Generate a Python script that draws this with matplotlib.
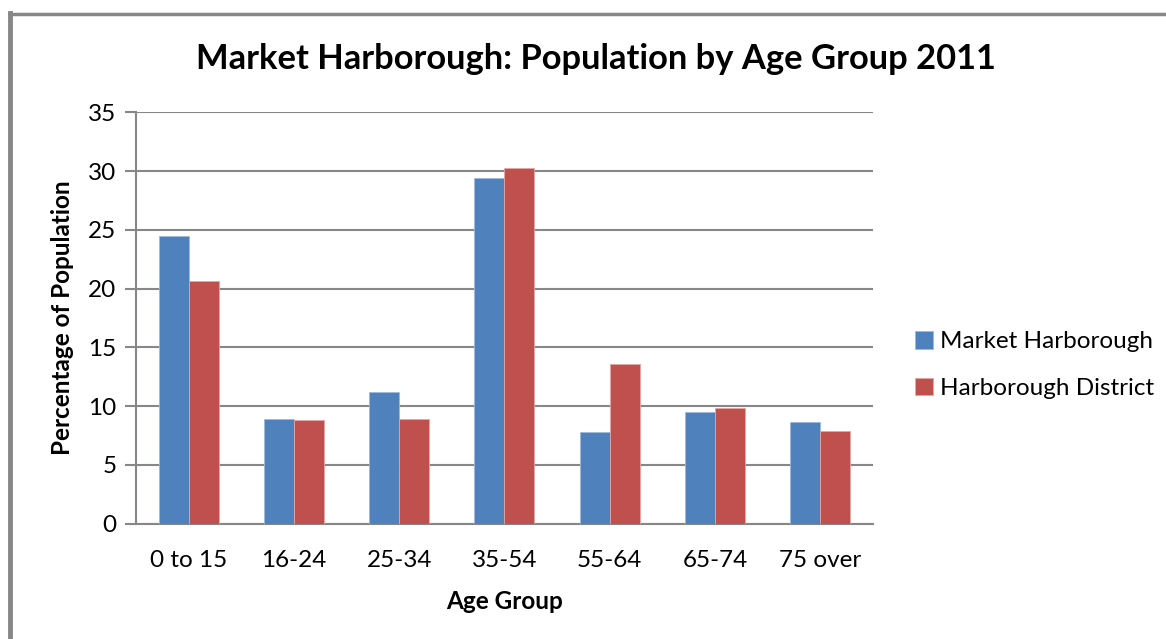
import numpy as np
import matplotlib.pyplot as plt
from matplotlib.lines import Line2D

age_groups = ['0 to 15', '16-24', '25-34', '35-54', '55-64', '65-74', '75 over']
market_harborough = [24.45, 8.9, 11.2, 29.4, 7.83, 9.5, 8.65]
harborough_district = [20.62, 8.8, 8.9, 30.26, 13.56, 9.87, 7.89]

plt.rcParams['font.family'] = ['Lato', 'DejaVu Sans']

fig = plt.figure(figsize=(11.66, 6.39), dpi=100)
ax = fig.add_axes([0.1166, 0.1805, 0.6321, 0.6438])

x = np.arange(len(age_groups))
w = 0.285
ax.bar(x - w / 2, market_harborough, w, color='#4F81BD', edgecolor='#9DB9DE',
       linewidth=0.6, label='Market Harborough', zorder=3)
ax.bar(x + w / 2, harborough_district, w, color='#C0504D', edgecolor='#E3A6A4',
       linewidth=0.6, label='Harborough District', zorder=3)

ax.set_xlim(-0.5, len(age_groups) - 0.5)
ax.set_ylim(0, 35)
ax.set_yticks(range(0, 36, 5))
ax.set_xticks(x)
ax.set_xticklabels(age_groups)
ax.yaxis.grid(True, color='#878787', linewidth=1.5, zorder=0)
ax.set_axisbelow(True)

for side in ['top', 'right']:
    ax.spines[side].set_visible(False)
for side in ['left', 'bottom']:
    ax.spines[side].set_color('#878787')
    ax.spines[side].set_linewidth(1.5)

ax.tick_params(axis='y', length=8, width=1.5, color='#878787', labelsize=17.5, pad=6)
ax.tick_params(axis='x', length=0, labelsize=17.5, pad=19)

ax.set_xlabel('Age Group', fontsize=17.5, fontweight='bold', labelpad=14)
ax.set_ylabel('Percentage of Population', fontsize=17.5, fontweight='bold', labelpad=10)

fig.text(0.5107, 0.908, 'Market Harborough: Population by Age Group 2011',
         ha='center', va='center', fontsize=24.8, fontweight='bold')

ax.legend(loc='center left', bbox_to_anchor=(1.027, 0.386), frameon=False,
          fontsize=17.5, handlelength=0.75, handleheight=0.75, handletextpad=0.3,
          labelspacing=1.05)

# outer chart border (left and top only visible)
fig.add_artist(Line2D([10 / 1166, 10 / 1166], [0, 1 - 13 / 639],
                      transform=fig.transFigure, color='#878787', linewidth=3.5))
fig.add_artist(Line2D([10 / 1166, 1], [1 - 14 / 639, 1 - 14 / 639],
                      transform=fig.transFigure, color='#878787', linewidth=2.5))

fig.savefig('out.png', dpi=100)
